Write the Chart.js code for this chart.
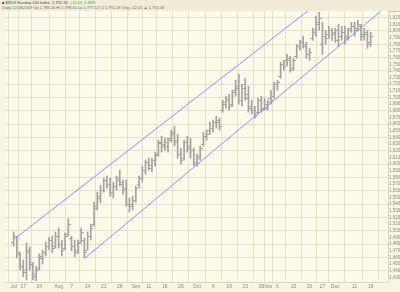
<!DOCTYPE html>
<html>
<head>
<meta charset="utf-8">
<script src="https://cdn.jsdelivr.net/npm/chart.js@4.4.1/dist/chart.umd.min.js"></script>
<style>
  html, body { margin: 0; padding: 0; background: #fbf9e8; }
  #wrap { position: relative; width: 400px; height: 292px; }
  #chart { position: absolute; left: 0; top: 0; }
  #hdr {
    position: absolute; left: 0; top: 0; width: 400px; height: 11px;
    background: #f1ecd7; box-sizing: border-box; padding: 1px 0 0 2px;
    font-family: 'Liberation Sans', Arial, sans-serif; font-size: 4px; line-height: 4.6px;
    color: #666; white-space: nowrap;
  }
  #hdr .t { color: #444; }
  #hdr .up { color: #3aad3a; }
</style>
</head>
<body>
<div id="wrap">
  <canvas id="chart" width="400" height="292"></canvas>
  <div id="hdr">
    <div class="t">&#9632; $NDX Nasdaq 100 Index &nbsp;1,792.18 &nbsp;<span class="up">+12.05 &nbsp;0.68%</span></div>
    <div>Daily 12/18/2009 Op 1,783.20 Hi 1,798.41 Lo 1,777.12 Cl 1,792.18 Chg +12.05 &#9650; 1,792.18</div>
  </div>
</div>
<script>
// ---- data ----
const days = [
  'Jul 14','Jul 15','Jul 16','Jul 17','Jul 20','Jul 21','Jul 22','Jul 23','Jul 24','Jul 27','Jul 28','Jul 29','Jul 30','Jul 31',
  'Aug 3','Aug 4','Aug 5','Aug 6','Aug 7','Aug 10','Aug 11','Aug 12','Aug 13','Aug 14','Aug 17','Aug 18','Aug 19','Aug 20','Aug 21',
  'Aug 24','Aug 25','Aug 26','Aug 27','Aug 28','Aug 31',
  'Sep 1','Sep 2','Sep 3','Sep 4','Sep 8','Sep 9','Sep 10','Sep 11','Sep 14','Sep 15','Sep 16','Sep 17','Sep 18',
  'Sep 21','Sep 22','Sep 23','Sep 24','Sep 25','Sep 28','Sep 29','Sep 30',
  'Oct 1','Oct 2','Oct 5','Oct 6','Oct 7','Oct 8','Oct 9','Oct 12','Oct 13','Oct 14','Oct 15','Oct 16',
  'Oct 19','Oct 20','Oct 21','Oct 22','Oct 23','Oct 26','Oct 27','Oct 28','Oct 29','Oct 30',
  'Nov 2','Nov 3','Nov 4','Nov 5','Nov 6','Nov 9','Nov 10','Nov 11','Nov 12','Nov 13',
  'Nov 16','Nov 17','Nov 18','Nov 19','Nov 20','Nov 23','Nov 24','Nov 25','Nov 27','Nov 30',
  'Dec 1','Dec 2','Dec 3','Dec 4','Dec 7','Dec 8','Dec 9','Dec 10','Dec 11','Dec 14','Dec 15','Dec 16','Dec 17','Dec 18'
];

const opens = [
  1483,1489,1464,1447,1438,1468,1449,1435,1444,1459,1468,1477,1486,1477,
  1492,1480,1474,1495,1489,1477,1471,1483,1486,1471,1492,1510,1537,1549,1561,
  1575,1570,1558,1567,1579,1570,
  1564,1540,1540,1546,1570,1579,1591,1603,1594,1606,1615,1633,1630,
  1627,1639,1648,1636,1615,1609,1633,1627,
  1621,1600,1612,1630,1642,1651,1654,1663,1663,1681,1690,1696,
  1690,1711,1717,1696,1720,1705,1687,1681,1678,1696,
  1684,1684,1699,1702,1720,1732,1750,1756,1756,1744,
  1762,1777,1783,1777,1765,1789,1801,1810,1780,1792,
  1795,1801,1798,1801,1792,1798,1792,1804,1807,1804,1807,1795,1795,1783
];
const highs = [
  1498,1492,1468,1456,1482,1476,1452,1447,1465,1471,1483,1490,1492,1498,
  1504,1486,1497,1518,1492,1486,1486,1504,1489,1498,1510,1543,1558,1568,1579,
  1582,1579,1573,1582,1591,1576,
  1576,1549,1552,1567,1582,1597,1606,1609,1609,1618,1636,1642,1639,
  1639,1651,1657,1645,1624,1636,1642,1639,
  1624,1615,1627,1648,1651,1663,1666,1672,1669,1696,1702,1705,
  1711,1726,1735,1720,1729,1717,1696,1687,1699,1702,
  1699,1696,1711,1723,1726,1753,1756,1765,1762,1759,
  1780,1786,1792,1783,1774,1804,1822,1828,1813,1801,
  1807,1804,1804,1810,1807,1807,1804,1813,1813,1816,1810,1804,1801,1798
];
const lows = [
  1477,1459,1441,1431,1426,1441,1426,1425,1441,1450,1462,1471,1467,1474,
  1474,1462,1471,1492,1470,1461,1465,1481,1459,1471,1486,1507,1531,1542,1558,
  1564,1552,1549,1561,1567,1555,
  1537,1528,1531,1543,1564,1573,1585,1591,1588,1597,1612,1618,1621,
  1618,1633,1627,1609,1600,1606,1618,1609,
  1598,1597,1606,1627,1636,1645,1648,1654,1651,1678,1684,1681,
  1687,1702,1690,1687,1696,1678,1675,1669,1675,1678,
  1681,1681,1690,1699,1711,1729,1741,1747,1738,1741,
  1759,1771,1774,1759,1756,1786,1792,1801,1765,1780,
  1789,1786,1783,1777,1786,1780,1786,1798,1792,1801,1786,1786,1774,1777
];
const closes = [
  1492,1468,1447,1441,1471,1453,1432,1441,1461,1467,1477,1485,1473,1492,
  1480,1471,1491,1510,1477,1468,1481,1498,1468,1492,1504,1534,1552,1561,1576,
  1570,1558,1567,1576,1573,1561,
  1540,1537,1546,1564,1579,1591,1603,1598,1606,1613,1631,1627,1633,
  1636,1645,1633,1615,1606,1633,1624,1621,
  1603,1609,1624,1642,1645,1654,1663,1666,1657,1693,1699,1687,
  1708,1714,1696,1714,1699,1684,1681,1672,1696,1681,
  1690,1693,1696,1720,1723,1750,1747,1759,1741,1756,
  1777,1783,1780,1765,1768,1798,1813,1819,1792,1789,
  1801,1795,1786,1792,1798,1789,1801,1807,1801,1810,1792,1798,1780,1792
];

// x-axis labels: day index -> text
const tickDays = [0, 3, 8, 14, 18, 23, 28, 33, 38, 42, 47, 52, 57, 62, 67, 72, 77, 79, 82, 87, 92, 96, 100, 106, 111];
const tickText = ['Jul','17','24','Aug','7','14','21','28','Sep','11','18','25','Oct','9','16','23','30','Nov','6','13','20','27','Dec','11','18'];

// trend channel end points [day index, price]
const upperLine = [[0.9, 1490], [91.7, 1831]];
const lowerLine = [[22.2, 1459], [114, 1829]];

const BAR = '#a2a2a2';
const GRID = '#e6e1c4';
const CHANNEL = '#9c88ec';

function tickMark(side) {
  const c = document.createElement('canvas');
  c.width = 5; c.height = 1;
  const g = c.getContext('2d');
  g.fillStyle = BAR;
  g.fillRect(side === 'open' ? 0 : 3, 0, 2, 1);
  return c;
}

const backdrop = {
  id: 'backdrop',
  beforeDraw(chart) {
    const { ctx, chartArea: a } = chart;
    ctx.save();
    ctx.fillStyle = '#f8f5e3';
    ctx.fillRect(0, 0, chart.width, chart.height);
    ctx.fillStyle = '#fcfaea';
    ctx.fillRect(a.left, a.top, a.right - a.left, a.bottom - a.top);
    ctx.restore();
  }
};

const tickFont = { family: 'Liberation Sans', size: 5 };

new Chart(document.getElementById('chart'), {
  type: 'bar',
  data: {
    datasets: [
      {
        type: 'line',
        data: upperLine.map(p => ({ x: p[0], y: p[1] })),
        borderColor: CHANNEL,
        borderWidth: 1,
        pointRadius: 0,
        order: 0
      },
      {
        type: 'line',
        data: lowerLine.map(p => ({ x: p[0], y: p[1] })),
        borderColor: CHANNEL,
        borderWidth: 1,
        pointRadius: 0,
        order: 0
      },
      {
        type: 'bar',
        data: days.map((d, i) => ({ x: i, y: [lows[i], highs[i]] })),
        backgroundColor: BAR,
        barThickness: 1,
        order: 2
      },
      {
        type: 'scatter',
        data: days.map((d, i) => ({ x: i, y: opens[i] })),
        pointStyle: tickMark('open'),
        order: 1
      },
      {
        type: 'scatter',
        data: days.map((d, i) => ({ x: i, y: closes[i] })),
        pointStyle: tickMark('close'),
        order: 1
      }
    ]
  },
  options: {
    responsive: false,
    animation: false,
    layout: { padding: { top: 11, left: 2, right: 0, bottom: 0 } },
    plugins: {
      legend: { display: false },
      tooltip: { enabled: false }
    },
    scales: {
      x: {
        type: 'linear',
        min: -0.3,
        max: 114,
        afterBuildTicks: scale => { scale.ticks = tickDays.map(v => ({ value: v })); },
        afterFit: scale => { scale.height = 10; },
        ticks: {
          autoSkip: false,
          maxRotation: 0,
          padding: 2,
          color: '#8a8a8a',
          font: tickFont,
          callback: (v, i) => tickText[i]
        },
        grid: { color: GRID, drawTicks: false },
        border: { color: '#dcd6b8' }
      },
      y: {
        position: 'right',
        min: 1423,
        max: 1830,
        afterFit: scale => { scale.width = 12; },
        ticks: {
          stepSize: 10,
          includeBounds: false,
          autoSkip: false,
          maxTicksLimit: 100,
          padding: 1,
          color: '#8a8a8a',
          font: { family: 'Liberation Sans', size: 4.5 },
          callback: v => v.toLocaleString('en-US')
        },
        grid: {
          drawTicks: false,
          color: ctx => (ctx.tick && ctx.tick.value % 20 === 0) ? GRID : 'rgba(0,0,0,0)'
        },
        border: { color: '#dcd6b8' }
      }
    }
  },
  plugins: [backdrop]
});
</script>
</body>
</html>
